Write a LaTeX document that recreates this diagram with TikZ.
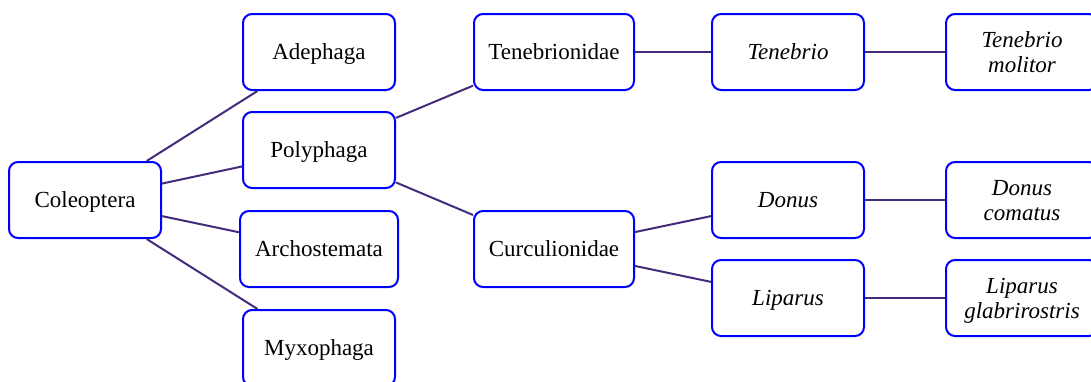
\documentclass[tikz,border=0pt]{standalone}
\usepackage{fontspec}
\setmainfont{Liberation Serif}
\usetikzlibrary{positioning}

\begin{document}
\begin{tikzpicture}[x=1pt,y=-1pt,
 taxon/.style={draw=blue,line width=2pt,rounded corners=9pt,fill=white,align=center,
               font=\fontsize{23}{25}\selectfont,minimum width=152pt,minimum height=76pt,
               inner sep=2pt,text depth=0pt},
 genus/.style={taxon,font=\fontsize{23}{25}\selectfont\itshape},
 link/.style={draw={rgb,255:red,68;green,44;blue,122},line width=2pt}]
\useasboundingbox (0,0) rectangle (1091,381);
\node[taxon] (coleoptera) at (85,200) {Coleoptera};
\node[taxon] (adephaga) at (319,52) {Adephaga};
\node[taxon] (polyphaga) at (319,150) {Polyphaga};
\node[taxon,minimum width=158pt] (archostemata) at (319,249) {Archostemata};
\node[taxon] (myxophaga) at (319,348) {Myxophaga};
\node[taxon,minimum width=160pt] (tenebrionidae) at (554,52) {Tenebrionidae};
\node[taxon,minimum width=160pt] (curculionidae) at (554,249) {Curculionidae};
\node[genus] (tenebrio) at (788,52) {Tenebrio};
\node[genus] (donus) at (788,200) {Donus};
\node[genus] (liparus) at (788,298) {Liparus};
\node[genus] (molitor) at (1022,52) {Tenebrio\\molitor};
\node[genus] (comatus) at (1022,200) {Donus\\comatus};
\node[genus] (glabrirostris) at (1022,298) {Liparus\\glabrirostris};
\draw[link] (coleoptera)--(adephaga);
\draw[link] (coleoptera)--(polyphaga);
\draw[link] (coleoptera)--(archostemata);
\draw[link] (coleoptera)--(myxophaga);
\draw[link] (polyphaga)--(tenebrionidae);
\draw[link] (polyphaga)--(curculionidae);
\draw[link] (tenebrionidae)--(tenebrio);
\draw[link] (curculionidae)--(donus);
\draw[link] (curculionidae)--(liparus);
\draw[link] (tenebrio)--(molitor);
\draw[link] (donus)--(comatus);
\draw[link] (liparus)--(glabrirostris);
\end{tikzpicture}
\end{document}
